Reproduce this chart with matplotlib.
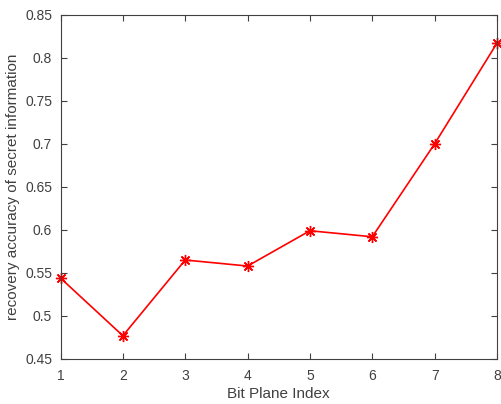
import matplotlib
matplotlib.use("Agg")
import matplotlib.pyplot as plt

plt.rcParams['font.family'] = ['Liberation Sans', 'DejaVu Sans']

bit_plane = [1, 2, 3, 4, 5, 6, 7, 8]
accuracy = [0.544, 0.477, 0.565, 0.558, 0.599, 0.592, 0.700, 0.817]
yticks = [0.45, 0.5, 0.55, 0.6, 0.65, 0.7, 0.75, 0.8, 0.85]

fig = plt.figure(figsize=(5.01, 4.04), dpi=100)
ax = fig.add_axes([0.1208, 0.1114, 0.8712, 0.8522])

# asterisk marker: 8 spokes, like + and x on top of each other
ax.plot(bit_plane, accuracy, color='red', lw=1.2, marker=(8, 2, 0), ms=8,
        markeredgewidth=1.0, clip_on=False)

ax.set_xlim(1, 8)
ax.set_ylim(0.45, 0.85)
ax.set_xticks(bit_plane)
ax.set_yticks(yticks)
ax.set_yticklabels(['%g' % v for v in yticks])

gray = '#404040'
for s in ax.spines.values():
    s.set_color(gray)
    s.set_linewidth(0.8)
ax.tick_params(direction='in', top=True, right=True, length=4, width=0.8,
               colors=gray, labelsize=10, pad=6)
ax.tick_params(axis='x', pad=7)
ax.set_xlabel('Bit Plane Index', fontsize=11, color=gray, labelpad=3)
ax.set_ylabel('recovery accuracy of secret information', fontsize=11,
              color=gray, labelpad=4)

fig.savefig('out.png', dpi=100)
